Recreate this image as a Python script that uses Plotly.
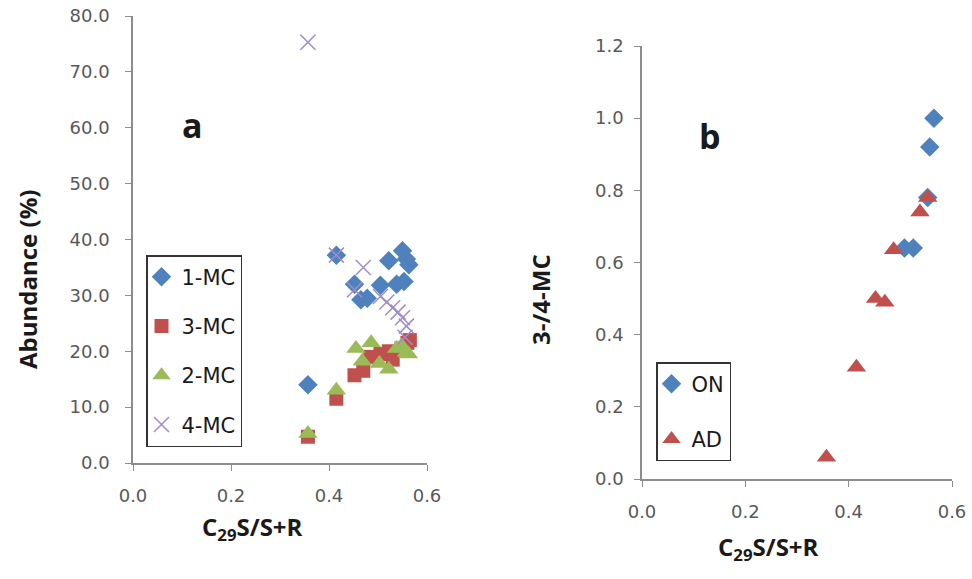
import plotly.graph_objects as go

# Panel a data: C29 S/(S+R) vs abundance (%)
mc1_x = [0.357, 0.415, 0.452, 0.465, 0.478, 0.505, 0.522, 0.538, 0.550, 0.558, 0.563, 0.553]
mc1_y = [14.0, 37.2, 32.0, 29.2, 29.5, 31.8, 36.2, 32.0, 38.0, 36.5, 35.5, 32.5]

mc3_x = [0.357, 0.415, 0.452, 0.470, 0.484, 0.505, 0.522, 0.530, 0.548, 0.560, 0.565]
mc3_y = [4.7, 11.5, 15.7, 16.5, 19.0, 19.5, 20.0, 18.5, 20.5, 21.5, 22.0]

mc2_x = [0.357, 0.415, 0.455, 0.468, 0.486, 0.503, 0.522, 0.538, 0.548, 0.558, 0.562]
mc2_y = [5.3, 13.0, 20.5, 18.2, 21.5, 17.8, 16.8, 20.5, 21.0, 19.8, 19.5]

mc4_x = [0.357, 0.415, 0.470, 0.452, 0.505, 0.518, 0.530, 0.541, 0.550, 0.558, 0.555]
mc4_y = [75.3, 37.2, 35.0, 31.0, 29.8, 28.8, 27.8, 27.0, 26.0, 24.5, 22.5]

# Panel b data: C29 S/(S+R) vs 3-/4-MC ratio
on_x = [0.565, 0.557, 0.553, 0.508, 0.525]
on_y = [1.00, 0.92, 0.78, 0.64, 0.64]

ad_x = [0.357, 0.415, 0.452, 0.470, 0.487, 0.538, 0.553]
ad_y = [0.06, 0.31, 0.50, 0.49, 0.635, 0.74, 0.78]

BLUE = "#4F81BD"
RED = "#C0504D"
GREEN = "#9BBB59"
PURPLE = "#A08CCB"

W, H = 972, 579

fig = go.Figure()

def add(x, y, name, symbol, color, size, xa, ya, legend, group, line_w=0):
    fig.add_trace(go.Scatter(
        x=x, y=y, mode="markers", name=name,
        marker=dict(symbol=symbol, color=color, size=size,
                    line=dict(width=line_w, color=color)),
        xaxis=xa, yaxis=ya, legend=legend, legendgroup=group,
    ))

add(mc1_x, mc1_y, "1-MC", "diamond", BLUE, 15, "x", "y", "legend", "a1")
add(mc3_x, mc3_y, "3-MC", "square", RED, 14, "x", "y", "legend", "a2")
add(mc2_x, mc2_y, "2-MC", "triangle-up", GREEN, 17, "x", "y", "legend", "a3")
add(mc4_x, mc4_y, "4-MC", "x-thin", PURPLE, 15, "x", "y", "legend", "a4", line_w=1.5)

add(on_x, on_y, "ON", "diamond", BLUE, 15, "x2", "y2", "legend2", "b1")
add(ad_x, ad_y, "AD", "triangle-up", RED, 17, "x2", "y2", "legend2", "b2")

tickfont = dict(family="DejaVu Sans", size=18, color="#595959")
titlefont = dict(family="Open Sans", size=24, color="#1a1a1a", weight="bold")

axis_common = dict(showline=True, linecolor="#8c8c8c", linewidth=1.5,
                   ticks="outside", ticklen=6, tickcolor="#8c8c8c",
                   showgrid=False, zeroline=False, tickfont=tickfont,
                   tickformat=".1f", automargin=False)

def px_x(p):
    return p / W

def px_y(p):
    return 1 - p / H

def note(text, x, y, size=None, angle=0):
    f = dict(titlefont)
    if size:
        f = dict(family="Open Sans", size=size, color="#1a1a1a")
    return dict(text=text, x=px_x(x), y=px_y(y), xref="paper", yref="paper",
                xanchor="center", yanchor="middle", textangle=angle,
                showarrow=False, font=f)

fig.update_layout(
    width=W, height=H,
    margin=dict(l=0, r=0, t=0, b=0, autoexpand=False),
    paper_bgcolor="white", plot_bgcolor="white",
    showlegend=True,
    xaxis=dict(domain=[px_x(133), px_x(427)], range=[0, 0.6], dtick=0.2,
               anchor="y", ticklabelstandoff=10, **axis_common),
    yaxis=dict(domain=[px_y(463), px_y(16)], range=[0, 80], dtick=10,
               anchor="x", ticklabelstandoff=12, **axis_common),
    xaxis2=dict(domain=[px_x(642), px_x(952)], range=[0, 0.6], dtick=0.2,
                anchor="y2", ticklabelstandoff=10, **axis_common),
    yaxis2=dict(domain=[px_y(479), px_y(46)], range=[0, 1.2], dtick=0.2,
                anchor="x2", ticklabelstandoff=7, **axis_common),
    legend=dict(x=px_x(146), y=px_y(255), xanchor="left", yanchor="top",
                bordercolor="#333333", borderwidth=1.5, bgcolor="white",
                font=dict(family="DejaVu Sans", size=21, color="#1a1a1a"),
                tracegroupgap=19, itemwidth=30, indentation=-6),
    legend2=dict(x=px_x(656), y=px_y(362), xanchor="left", yanchor="top",
                 bordercolor="#333333", borderwidth=1.5, bgcolor="white",
                 font=dict(family="DejaVu Sans", size=21, color="#1a1a1a"),
                 tracegroupgap=25, itemwidth=30, indentation=-6),
    annotations=[
        note("<b>a</b>", 192, 125, size=34),
        note("<b>b</b>", 710, 136, size=34),
        note("<b>Abundance (%)</b>", 27, 280, angle=-90),
        note("<b>3-/4-MC</b>", 540, 300, angle=-90),
        note("<b>C<sub>29</sub>S/S+R</b>", 252, 528),
        note("<b>C<sub>29</sub>S/S+R</b>", 768, 548),
    ],
)

fig.write_html("out.html")
